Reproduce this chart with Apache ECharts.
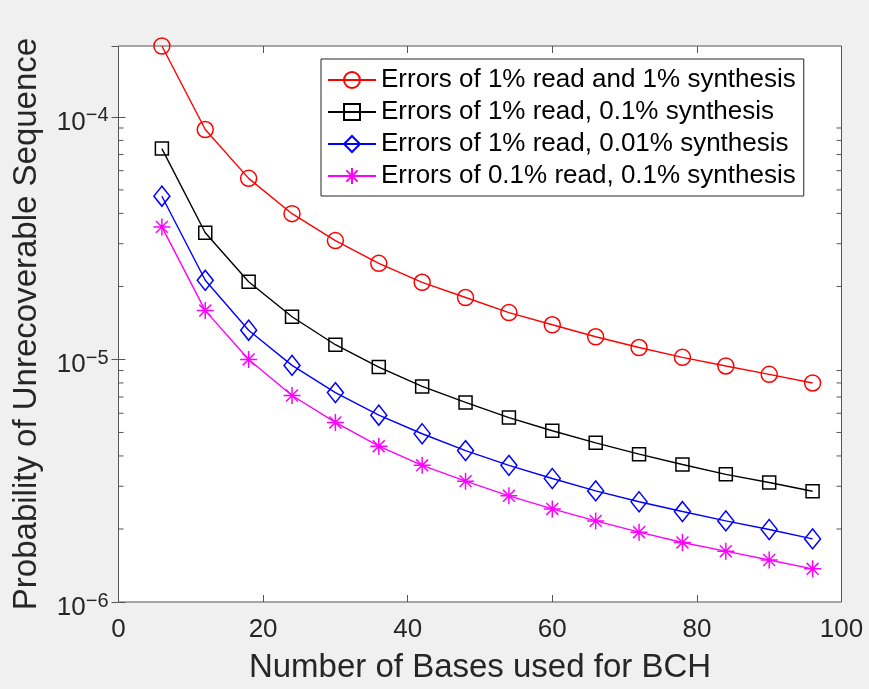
<!DOCTYPE html>
<html>
<head>
<meta charset="utf-8">
<script src="https://cdn.jsdelivr.net/npm/echarts@6/dist/echarts.min.js"></script>
<style>
  html, body { margin: 0; padding: 0; background: #f0f0f0; }
  #chart { width: 869px; height: 689px; }
</style>
</head>
<body>
<div id="chart"></div>
<script>
// ---- data ----
const bases = [6, 12, 18, 24, 30, 36, 42, 48, 54, 60, 66, 72, 78, 84, 90, 96];
const read1Synth1 = [1.96e-4, 8.87e-5, 5.58e-5, 3.99e-5, 3.09e-5, 2.49e-5, 2.08e-5, 1.80e-5, 1.56e-5, 1.39e-5, 1.24e-5, 1.12e-5, 1.02e-5, 9.4e-6, 8.68e-6, 8.0e-6];
const read1Synth01 = [7.4e-5, 3.33e-5, 2.09e-5, 1.50e-5, 1.15e-5, 9.3e-6, 7.74e-6, 6.65e-6, 5.76e-6, 5.08e-6, 4.53e-6, 4.07e-6, 3.69e-6, 3.36e-6, 3.11e-6, 2.86e-6];
const read1Synth001 = [4.71e-5, 2.12e-5, 1.32e-5, 9.45e-6, 7.3e-6, 5.89e-6, 4.94e-6, 4.21e-6, 3.66e-6, 3.23e-6, 2.87e-6, 2.59e-6, 2.36e-6, 2.16e-6, 1.99e-6, 1.82e-6];
const read01Synth01 = [3.52e-5, 1.59e-5, 1.0e-5, 7.1e-6, 5.5e-6, 4.39e-6, 3.66e-6, 3.15e-6, 2.74e-6, 2.42e-6, 2.16e-6, 1.94e-6, 1.76e-6, 1.62e-6, 1.49e-6, 1.37e-6];
const seriesNames = [
  'Errors of 1% read and 1% synthesis',
  'Errors of 1% read, 0.1% synthesis',
  'Errors of 1% read, 0.01% synthesis',
  'Errors of 0.1% read, 0.1% synthesis'
];
const xTicks = [0, 20, 40, 60, 80, 100];
const yMin = 1e-6, yMax = 1.96e-4;
const yMinorTicks = [2e-6, 3e-6, 4e-6, 5e-6, 6e-6, 7e-6, 8e-6, 9e-6,
                     2e-5, 3e-5, 4e-5, 5e-5, 6e-5, 7e-5, 8e-5, 9e-5];

const FONT = 'Liberation Sans, Arial, Helvetica, sans-serif';
const AX = '#555555';
const TXT = '#262626';

function pairs(ys) { return bases.map((x, i) => [x, ys[i]]); }

function lineSeries(name, ys, color, symbol, size) {
  return {
    type: 'line', name: name, data: pairs(ys),
    symbol: symbol, symbolSize: size, showSymbol: true,
    clip: false, silent: true,
    lineStyle: { color: color, width: 1.4 },
    itemStyle: { color: 'rgba(0,0,0,0)', borderColor: color, borderWidth: 1.5 },
    emphasis: { disabled: true },
    z: 3
  };
}

const asterisk = 'path://M10 0 L10 20 M0 10 L20 10 M3 3 L17 17 M3 17 L17 3';

const chart = echarts.init(document.getElementById('chart'), null, { renderer: 'canvas' });

const yLabelFormatter = function (v) {
  const l = Math.log10(v);
  const e = Math.round(l);
  if (Math.abs(l - e) > 1e-6) return '';
  return '{b|10}{s|' + (e < 0 ? '\u2212' + (-e) : String(e)) + '}';
};

chart.setOption({
  backgroundColor: '#f0f0f0',
  animation: false,
  textStyle: { fontFamily: FONT },
  grid: {
    left: 118.5, right: 27.5, top: 46, bottom: 81,
    show: true, backgroundColor: '#ffffff', borderColor: AX, borderWidth: 1
  },
  legend: {
    data: seriesNames,
    orient: 'vertical',
    left: 321, top: 59,
    itemWidth: 48, itemHeight: 20, itemGap: 6,
    padding: [8, 8, 7, 6],
    backgroundColor: '#ffffff',
    borderColor: '#262626', borderWidth: 1,
    textStyle: { fontFamily: FONT, fontSize: 26, lineHeight: 26, color: '#000000' },
    selectedMode: false
  },
  xAxis: [
    {
      type: 'value', position: 'bottom', min: 0, max: 100, interval: 20,
      name: 'Number of Bases used for BCH', nameLocation: 'middle', nameGap: 49,
      nameTextStyle: { fontFamily: FONT, fontSize: 33, color: TXT },
      axisLine: { show: false },
      axisTick: { show: true, inside: true, length: 7, lineStyle: { color: AX, width: 1 } },
      axisLabel: { fontFamily: FONT, fontSize: 26, color: TXT, margin: 15,
                   formatter: v => (xTicks.indexOf(v) >= 0 ? String(v) : '') },
      splitLine: { show: false }
    },
    {
      type: 'value', position: 'top', min: 0, max: 100, interval: 20,
      axisLine: { show: false },
      axisTick: { show: true, inside: true, length: 7, lineStyle: { color: AX, width: 1 } },
      axisLabel: { show: false },
      splitLine: { show: false }
    }
  ],
  yAxis: [
    {
      type: 'log', logBase: 10, position: 'left', min: yMin, max: yMax,
      name: 'Probability of Unrecoverable Sequence', nameLocation: 'middle', nameGap: 75,
      nameRotate: 90,
      nameTextStyle: { fontFamily: FONT, fontSize: 33, color: TXT },
      axisLine: { show: false },
      axisTick: { show: true, inside: true, length: 7, lineStyle: { color: AX, width: 1 } },
      axisLabel: {
        margin: 10, showMaxLabel: false,
        formatter: yLabelFormatter,
        rich: {
          b: { fontFamily: FONT, fontSize: 26, lineHeight: 26, color: TXT, padding: [11, 0, 0, 0] },
          s: { fontFamily: FONT, fontSize: 20, lineHeight: 20, color: TXT, verticalAlign: 'top', padding: [2, 0, 0, 0] }
        }
      },
      splitLine: { show: false }
    },
    {
      type: 'log', logBase: 10, position: 'right', min: yMin, max: yMax,
      axisLine: { show: false },
      axisTick: { show: true, inside: true, length: 7, lineStyle: { color: AX, width: 1 } },
      axisLabel: { show: false },
      splitLine: { show: false }
    }
  ],
  series: [
    {
      type: 'custom', name: 'minorTicks', silent: true, z: 1,
      xAxisIndex: 0, yAxisIndex: 0,
      data: yMinorTicks.map(v => [0, v]),
      renderItem: function (params, api) {
        const v = api.value(1);
        const pl = api.coord([0, v]);
        const pr = api.coord([100, v]);
        const st = { stroke: AX, lineWidth: 1 };
        return {
          type: 'group',
          children: [
            { type: 'line', shape: { x1: pl[0], y1: pl[1], x2: pl[0] + 5, y2: pl[1] }, style: st },
            { type: 'line', shape: { x1: pr[0] - 5, y1: pr[1], x2: pr[0], y2: pr[1] }, style: st }
          ]
        };
      }
    },
    lineSeries(seriesNames[0], read1Synth1, '#ff0000', 'circle', 16),
    lineSeries(seriesNames[1], read1Synth01, '#000000', 'rect', 13),
    lineSeries(seriesNames[2], read1Synth001, '#0000ff', 'diamond', [16, 20]),
    lineSeries(seriesNames[3], read01Synth01, '#ff00ff', asterisk, 17)
  ]
});
</script>
</body>
</html>
